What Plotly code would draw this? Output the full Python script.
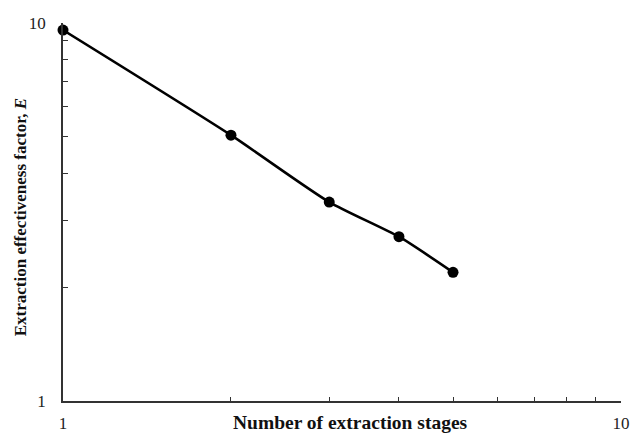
import plotly.graph_objects as go

stages = [1, 2, 3, 4, 5]
effectiveness = [9.58, 5.05, 3.36, 2.72, 2.19]
tick_vals = [1, 2, 3, 4, 5, 6, 7, 8, 9, 10]
tick_text = ["1", "", "", "", "", "", "", "", "", "10"]

FONT = "Liberation Serif, Times New Roman, serif"

fig = go.Figure()
fig.add_trace(go.Scatter(
    x=stages, y=effectiveness, mode="lines+markers",
    line=dict(color="black", width=2.6, shape="spline", smoothing=0.6),
    marker=dict(color="black", size=11),
    showlegend=False, cliponaxis=False,
))

axis_common = dict(
    type="log", range=[0, 1], tickvals=tick_vals, ticktext=tick_text,
    ticks="inside", tickcolor="#333", showline=True, linecolor="#333",
    linewidth=1.5, showgrid=False, zeroline=False, mirror=False,
    automargin=False,
    tickfont=dict(family=FONT, size=17, color="#222"),
)

fig.update_xaxes(**axis_common, ticklen=4, ticklabelstandoff=6)
fig.update_yaxes(**axis_common, ticklen=5, ticklabelstandoff=12)

fig.add_annotation(
    text="<b>Number of extraction stages</b>", xref="paper", yref="paper",
    x=0.515, y=-0.089, xanchor="center", yanchor="bottom", showarrow=False,
    font=dict(family=FONT, size=19.5, color="#111"),
)
fig.add_annotation(
    text="<b>Extraction effectiveness factor, <i>E</i></b>", xref="paper", yref="paper",
    x=-0.076, y=0.485, xanchor="center", yanchor="middle", showarrow=False,
    textangle=-90, font=dict(family=FONT, size=17, color="#111"),
)

fig.update_layout(
    width=632, height=435,
    margin=dict(l=63, r=11, t=23, b=34, autoexpand=False),
    paper_bgcolor="white", plot_bgcolor="white",
)

fig.write_html(
    "out.html",
    config={"displayModeBar": False},
    post_script="document.body.style.margin='0';document.body.style.overflow='hidden';",
)
